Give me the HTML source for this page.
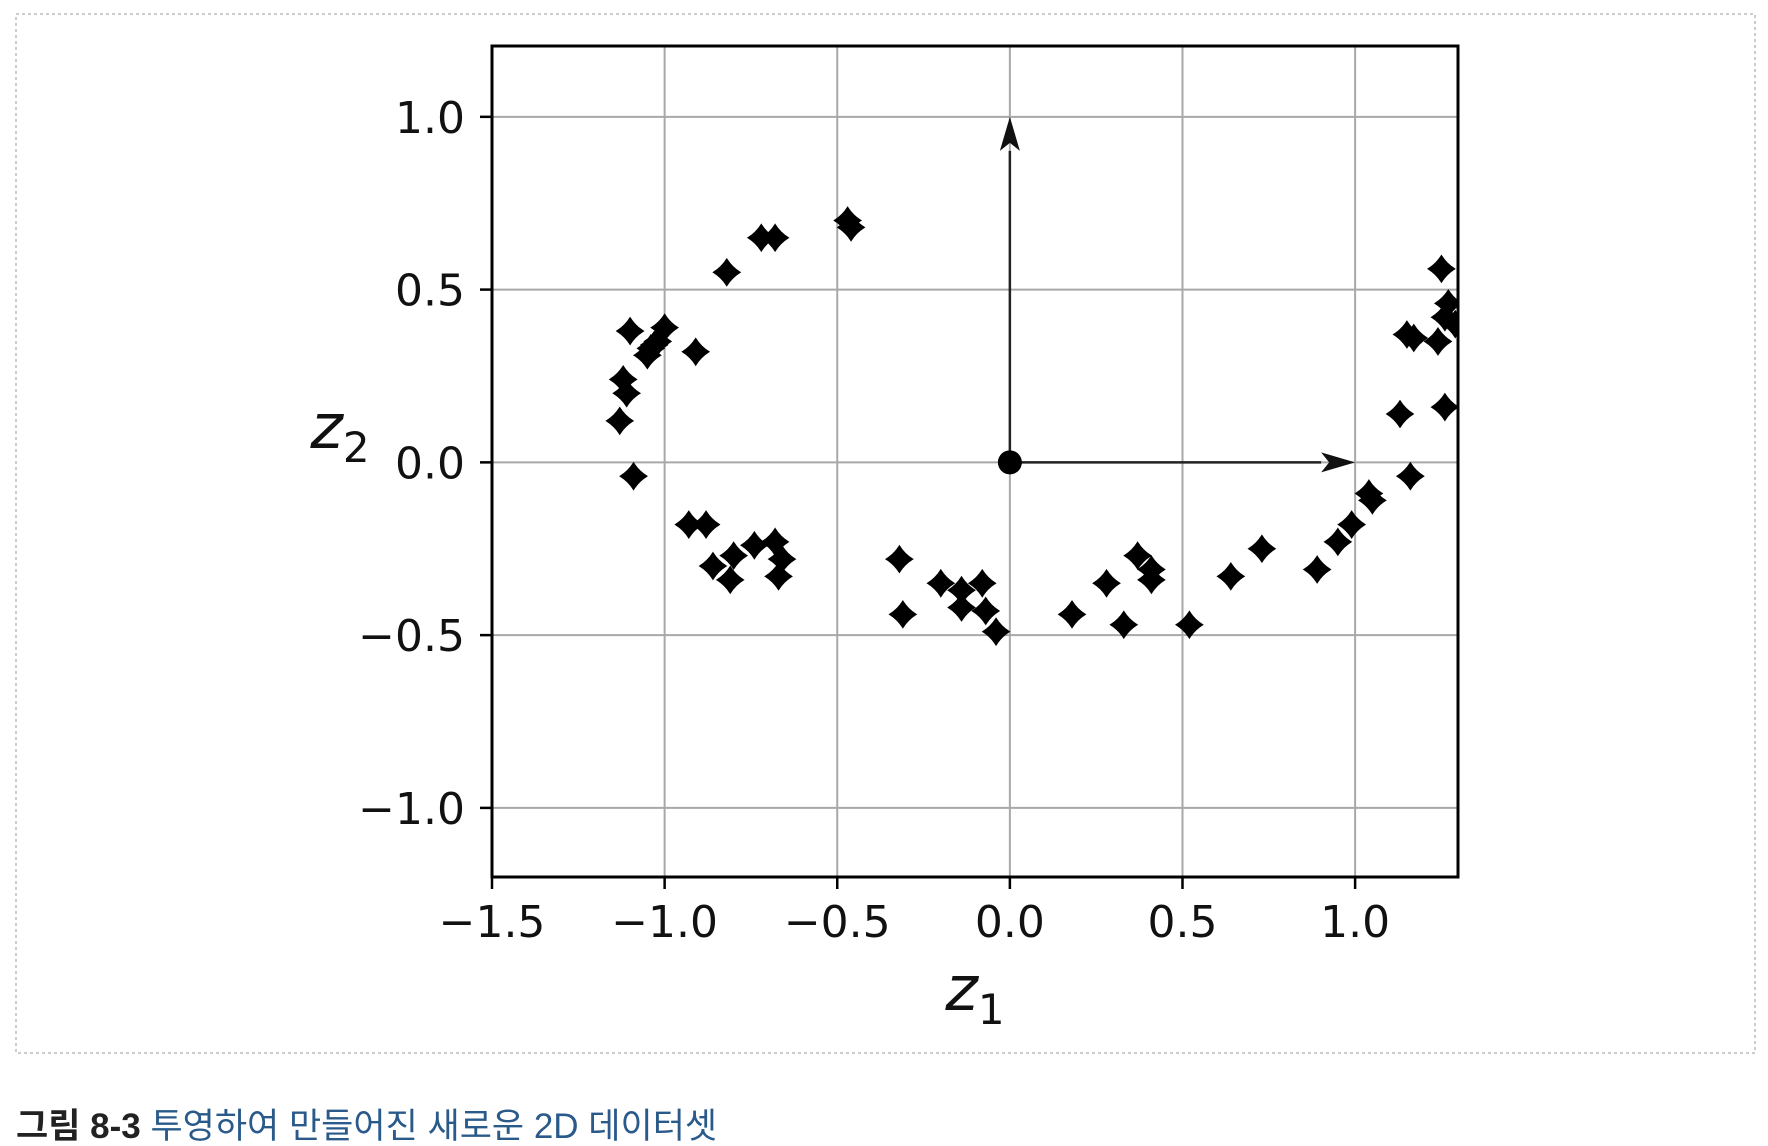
<!DOCTYPE html>
<html><head><meta charset="utf-8"><style>
html,body{margin:0;padding:0;background:#fff;width:1768px;height:1146px;overflow:hidden}
svg{display:block}
</style></head><body>
<svg id="chart" width="1768" height="1146">
<rect x="16" y="14" width="1739" height="1039" fill="none" stroke="#bbb" stroke-width="1.5" stroke-dasharray="3,3"/>
<defs><clipPath id="clip"><rect x="492" y="46" width="966" height="831"/></clipPath></defs>
<g id="grid"></g><g id="marks" clip-path="url(#clip)"></g><g id="axes"></g>
<text x="16" y="1138" font-family="'Liberation Sans','Noto Sans CJK KR',sans-serif" font-size="35" fill="#222"><tspan font-weight="bold">그림 8-3</tspan> <tspan fill="#2a5a8a">투영하여 만들어진 새로운 2D 데이터셋</tspan></text>
</svg>
<script>
const xTicks=[-1.5,-1.0,-0.5,0.0,0.5,1.0];
const yTicks=[-1.0,-0.5,0.0,0.5,1.0];
const xTickLabels=["\u22121.5","\u22121.0","\u22120.5","0.0","0.5","1.0"];
const yTickLabels=["\u22121.0","\u22120.5","0.0","0.5","1.0"];
const xs=[-1.10,-1.00,-1.05,-1.04,-1.03,-1.02,-0.91,-1.12,-1.11,-1.13,-1.09,-0.82,-0.72,-0.68,-0.47,-0.46,
-0.93,-0.88,-0.86,-0.81,-0.80,-0.74,-0.68,-0.66,-0.67,
-0.32,-0.31,-0.20,-0.14,-0.14,-0.08,-0.07,-0.04,
0.18,0.28,0.33,0.37,0.41,0.41,0.52,0.64,0.73,
0.89,0.95,0.99,1.04,1.05,1.16,1.13,1.26,1.15,1.17,1.24,1.25,1.26,1.27,1.29];
const ys=[0.38,0.39,0.31,0.33,0.34,0.35,0.32,0.24,0.20,0.12,-0.04,0.55,0.65,0.65,0.70,0.68,
-0.18,-0.18,-0.30,-0.34,-0.27,-0.24,-0.23,-0.28,-0.33,
-0.28,-0.44,-0.35,-0.37,-0.42,-0.35,-0.43,-0.49,
-0.44,-0.35,-0.47,-0.27,-0.34,-0.31,-0.47,-0.33,-0.25,
-0.31,-0.23,-0.18,-0.09,-0.11,-0.04,0.14,0.16,0.37,0.36,0.35,0.56,0.42,0.46,0.40];
const vecX=[0,1];const vecY=[1,0];
const L=492,R=1458,T=46,B=877;const xmin=-1.5,xmax=1.298,ymin=-1.2,ymax=1.205;
const sx=v=>L+(v-xmin)/(xmax-xmin)*(R-L);
const sy=v=>B-(v-ymin)/(ymax-ymin)*(B-T);
const NS="http://www.w3.org/2000/svg";
function mk(tag,attrs,parent){const e=document.createElementNS(NS,tag);for(const k in attrs)e.setAttribute(k,attrs[k]);parent.appendChild(e);return e;}
const grid=document.getElementById('grid'),marks=document.getElementById('marks'),axes=document.getElementById('axes');
const FF="'DejaVu Sans','Liberation Sans',sans-serif";
xTicks.forEach((t,i)=>{const x=sx(t);
 const g=mk('line',{x1:x,x2:x,y1:T,y2:B,stroke:'#a8a8a8','stroke-width':2},grid);
 
 
 const tk=mk('line',{x1:x,x2:x,y1:B,y2:B+12,stroke:'#000','stroke-width':2.5},axes);
 
 
 const tx=mk('text',{x:x,y:937,'text-anchor':'middle','font-family':FF,'font-size':44,fill:'#111'},axes);
 tx.textContent=xTickLabels[i];
 
 
});
yTicks.forEach((t,i)=>{const y=sy(t);
 const g=mk('line',{x1:L,x2:R,y1:y,y2:y,stroke:'#a8a8a8','stroke-width':2},grid);
 
 
 const tk=mk('line',{x1:L-12,x2:L,y1:y,y2:y,stroke:'#000','stroke-width':2.5},axes);
 
 
 const tx=mk('text',{x:465,y:y+16,'text-anchor':'end','font-family':FF,'font-size':44,fill:'#111'},axes);
 tx.textContent=yTickLabels[i];
 
 
});
const frame=mk('rect',{x:L,y:T,width:R-L,height:B-T,fill:'none',stroke:'#000','stroke-width':3},axes);


xs.forEach((v,i)=>{const cx=sx(v),cy=sy(ys[i]),s=13,c=5;
 const p=mk('path',{d:`M${cx},${cy-s} Q${cx+c},${cy-c} ${cx+s},${cy} Q${cx+c},${cy+c} ${cx},${cy+s} Q${cx-c},${cy+c} ${cx-s},${cy} Q${cx-c},${cy-c} ${cx},${cy-s}Z`,fill:'#000',stroke:'#000','stroke-width':1.5},marks);
 
 
});
vecX.forEach((vx,i)=>{const vy=vecY[i];const x0=sx(0),y0=sy(0),x1=sx(vx),y1=sy(vy);
 const len=Math.hypot(x1-x0,y1-y0),ux=(x1-x0)/len,uy=(y1-y0)/len,hl=34,hw=10;
 const bx=x1-ux*hl,by=y1-uy*hl;
 const l=mk('line',{x1:x0,y1:y0,x2:bx,y2:by,stroke:'#222','stroke-width':2.5},axes);
 
 
 const h=mk('polygon',{points:`${x1},${y1} ${bx-uy*hw},${by+ux*hw} ${bx+ux*8},${by+uy*8} ${bx+uy*hw},${by-ux*hw}`,fill:'#111'},axes);
 
 
});
const o=mk('circle',{cx:sx(0),cy:sy(0),r:12,fill:'#000'},axes);


const xl=mk('text',{x:975,y:1010,'text-anchor':'middle','font-family':FF,'font-size':62,'font-style':'italic',fill:'#111'},axes);
xl.innerHTML='z<tspan font-size="42" font-style="normal" dy="14">1</tspan>';


const yl=mk('text',{x:340,y:448,'text-anchor':'middle','font-family':FF,'font-size':62,'font-style':'italic',fill:'#111'},axes);
yl.innerHTML='z<tspan font-size="42" font-style="normal" dy="14">2</tspan>';


</script>
</body></html>
